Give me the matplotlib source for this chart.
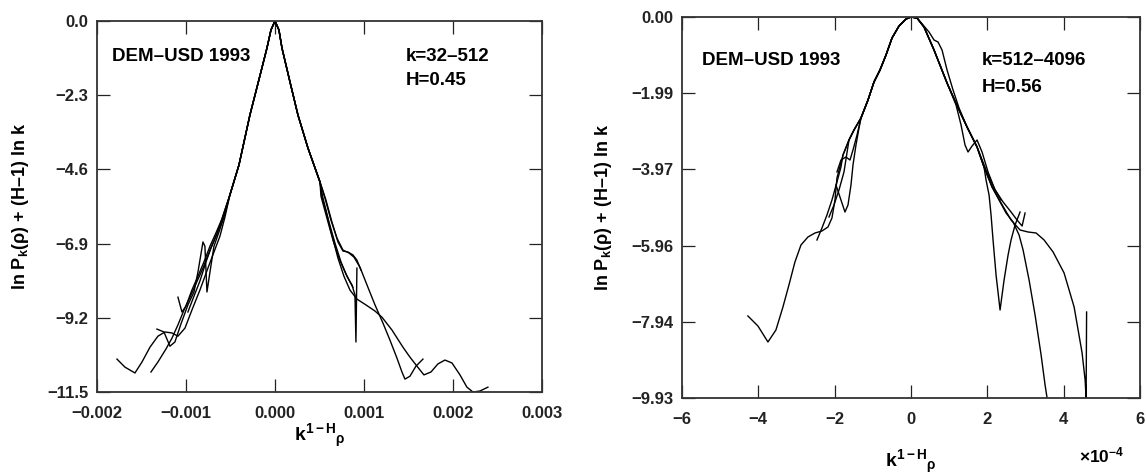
#!/usr/bin/env python

import matplotlib

matplotlib.use("Agg")
import matplotlib.pyplot as plt
from matplotlib.ticker import FixedLocator, FuncFormatter

# ---- left panel: k=32-512, H=0.45 (x in units of 1e-3) ----
left_core_x = [-0.506, -0.404, -0.281, -0.169, -0.090, -0.045, 0.0, 0.045, 0.079, 0.169, 0.258, 0.371, 0.506]
left_core_y = [-5.39, -4.46, -2.91, -1.70, -0.84, -0.28, 0.0, -0.28, -0.84, -1.89, -2.91, -3.94, -4.99]

left_tails_l = [
    ([-1.775, -1.685, -1.573, -1.494, -1.404, -1.315, -1.236, -1.157, -1.090, -1.011, -0.933, -0.843, -0.753, -0.685, -0.618, -0.562],
     [-10.48, -10.73, -10.91, -10.57, -10.11, -9.77, -9.64, -9.67, -9.77, -9.52, -8.96, -8.34, -7.66, -7.16, -6.67, -6.08]),
    ([-1.393, -1.315, -1.225, -1.157, -1.090, -1.022, -0.955, -0.888, -0.809, -0.730, -0.652, -0.584],
     [-10.88, -10.57, -10.17, -9.83, -9.42, -8.96, -8.56, -8.15, -7.66, -7.10, -6.60, -6.11]),
    ([-1.326, -1.247, -1.180, -1.124, -1.056, -0.978, -0.910, -0.865, -0.809, -0.787, -0.764, -0.730, -0.685, -0.629, -0.573],
     [-9.55, -9.64, -10.08, -9.95, -9.39, -8.80, -8.40, -7.78, -6.85, -6.98, -8.40, -7.78, -6.98, -6.54, -6.08]),
    ([-1.090, -1.045, -1.000, -0.933, -0.865, -0.798, -0.730, -0.663, -0.596],
     [-8.56, -9.02, -8.84, -8.34, -7.91, -7.47, -6.98, -6.57, -6.14]),
    ([-0.978, -0.910, -0.843, -0.775, -0.719, -0.652, -0.596],
     [-9.02, -8.53, -8.06, -7.47, -7.04, -6.60, -6.14]),
]
left_tails_r = [
    ([0.528, 0.584, 0.640, 0.708, 0.775, 0.843, 0.921, 1.022, 1.124, 1.202, 1.315, 1.438, 1.517, 1.596, 1.674, 1.753, 1.831, 1.910, 1.989, 2.079, 2.157, 2.225, 2.303, 2.393],
     [-5.43, -6.01, -6.63, -7.35, -7.91, -8.34, -8.62, -8.80, -8.99, -9.18, -9.58, -10.11, -10.42, -10.70, -10.97, -10.88, -10.63, -10.51, -10.60, -10.97, -11.35, -11.50, -11.47, -11.35]),
    ([0.562, 0.629, 0.697, 0.764, 0.831, 0.888, 0.955, 1.034, 1.124, 1.213, 1.292, 1.371, 1.427, 1.461, 1.517, 1.584, 1.663],
     [-5.49, -6.17, -6.73, -7.10, -7.19, -7.32, -7.63, -8.18, -8.80, -9.36, -9.89, -10.45, -10.88, -11.10, -11.01, -10.70, -10.48]),
    ([0.539, 0.607, 0.674, 0.742, 0.809, 0.865, 0.899, 0.910, 0.921],
     [-5.49, -6.23, -6.88, -7.47, -7.91, -8.18, -8.49, -9.95, -7.66]),
    ([0.573, 0.640, 0.708, 0.764, 0.820, 0.876, 0.921, 0.966],
     [-5.55, -6.23, -6.85, -7.13, -7.16, -7.25, -7.41, -7.72]),
    ([0.517, 0.584, 0.652, 0.719, 0.787, 0.843, 0.876],
     [-5.43, -6.11, -6.79, -7.35, -7.78, -8.09, -8.25]),
]
left_xticks = [-0.002, -0.001, 0.0, 0.001, 0.002, 0.003]
left_yticks = [0.0, -2.3, -4.6, -6.9, -9.2, -11.5]

# ---- right panel: k=512-4096, H=0.56 (x in units of 1e-4) ----
right_core_x = [-1.782, -1.625, -1.494, -1.311, -1.127, -0.970, -0.813, -0.655, -0.498, -0.315, -0.131, 0.0,
                0.157, 0.341, 0.603, 0.944, 1.258, 1.468, 1.730, 1.913, 2.123]
right_core_y = [-3.596, -3.205, -2.945, -2.632, -2.163, -1.694, -1.381, -0.990, -0.547, -0.235, -0.052, 0.0,
                -0.026, -0.261, -0.860, -1.720, -2.424, -2.867, -3.388, -3.909, -4.430]

right_tails_l = [
    ([-4.273, -4.010, -3.748, -3.539, -3.355, -3.198, -3.041, -2.883, -2.700, -2.516, -2.333, -2.176, -2.071, -1.992, -1.940],
     [-7.792, -8.053, -8.470, -8.157, -7.557, -6.984, -6.385, -5.942, -5.733, -5.629, -5.577, -5.473, -5.238, -4.769, -4.196]),
    ([-2.149, -2.018, -1.887, -1.756],
     [-5.212, -4.899, -4.508, -4.039]),
    ([-1.966, -1.835, -1.730, -1.651, -1.573, -1.520, -1.442, -1.363],
     [-4.378, -4.769, -5.082, -4.899, -4.378, -3.857, -3.336, -2.893]),
    ([-1.940, -1.835, -1.704, -1.599, -1.520, -1.415],
     [-4.039, -3.727, -3.648, -3.727, -3.466, -3.075]),
    ([-2.464, -2.333, -2.202, -2.071, -1.940, -1.835],
     [-5.811, -5.499, -5.160, -4.769, -4.300, -3.909]),
]
right_tails_r = [
    ([2.359, 2.621, 2.857, 3.067, 3.277, 3.486, 3.722, 4.010, 4.273, 4.482, 4.561, 4.587, 4.600],
     [-4.847, -5.290, -5.551, -5.603, -5.629, -5.811, -6.124, -6.671, -7.557, -8.756, -9.460, -9.930, -7.688]),
    ([1.966, 2.045, 2.097, 2.149, 2.228, 2.333, 2.438, 2.543, 2.621, 2.726, 2.857],
     [-4.248, -4.639, -5.160, -5.811, -6.724, -7.636, -6.854, -6.202, -5.811, -5.420, -5.082]),
    ([2.307, 2.490, 2.674, 2.831, 2.936, 3.093, 3.250, 3.408, 3.512, 3.565],
     [-4.769, -5.108, -5.342, -5.681, -6.072, -6.854, -7.766, -8.808, -9.590, -9.930]),
    ([1.180, 1.311, 1.415, 1.494, 1.599, 1.730, 1.861, 2.018, 2.202, 2.412, 2.621, 2.778, 2.910, 2.988],
     [-2.293, -2.815, -3.336, -3.518, -3.362, -3.205, -3.518, -4.039, -4.508, -4.821, -5.082, -5.290, -5.447, -5.108]),
    ([0.315, 0.472, 0.603, 0.708, 0.813, 0.944, 1.101, 1.258, 1.468, 1.730, 1.966, 2.176, 2.359],
     [-0.208, -0.391, -0.599, -0.652, -0.860, -1.381, -1.902, -2.371, -2.867, -3.388, -3.987, -4.456, -4.769]),
]
right_xticks = [-6, -4, -2, 0, 2, 4, 6]
right_yticks = [0.0, -1.986, -3.972, -5.958, -7.944, -9.93]


def join(tail_l, tail_r, core_x, core_y):
    (lx, ly), (rx, ry) = tail_l, tail_r
    mid = [(x, y) for x, y in zip(core_x, core_y) if lx[-1] < x < rx[0]]
    xs = lx + [p[0] for p in mid] + rx
    ys = ly + [p[1] for p in mid] + ry
    return xs, ys


def style_axes(ax):
    ax.tick_params(axis="both", direction="in", length=9.5, width=0.9,
                   top=True, right=True, labelsize=12, colors="#222222")
    ax.tick_params(axis="x", pad=10)
    ax.tick_params(axis="y", pad=6)
    for s in ax.spines.values():
        s.set_linewidth(1.3)
        s.set_color("#333333")


def main():
    plt.rcParams.update({
        "font.family": ["Liberation Sans", "DejaVu Sans"],
        "font.weight": "bold",
        "mathtext.fontset": "custom",
        "mathtext.rm": "Liberation Sans:bold",
        "mathtext.bf": "Liberation Sans:bold",
        "mathtext.it": "Liberation Sans:bold",
        "mathtext.sf": "Liberation Sans",
    })

    fig = plt.figure(figsize=(11.46, 4.74), dpi=100)
    ax1 = fig.add_axes([0.0846, 0.1730, 0.3883, 0.7827])
    ax2 = fig.add_axes([0.5951, 0.1603, 0.3997, 0.8038])

    # left panel
    for tl, tr in zip(left_tails_l, left_tails_r):
        xs, ys = join(tl, tr, left_core_x, left_core_y)
        ax1.plot([x * 1e-3 for x in xs], ys, color="black", lw=1.0)
    ax1.set_xlim(-0.002, 0.003)
    ax1.set_ylim(-11.5, 0.0)
    ax1.xaxis.set_major_locator(FixedLocator(left_xticks))
    ax1.yaxis.set_major_locator(FixedLocator(left_yticks))
    ax1.xaxis.set_major_formatter(FuncFormatter(lambda v, p: f"{v:.3f}".replace("-", "\u2212")))
    ax1.yaxis.set_major_formatter(FuncFormatter(lambda v, p: f"{v:.1f}".replace("-", "\u2212")))
    style_axes(ax1)
    ax1.text(0.034, 0.905, "DEM\u2013USD 1993", transform=ax1.transAxes,
             fontsize=13.5, fontweight="bold", va="center", ha="left")
    ax1.text(0.695, 0.905, "k=32\u2013512", transform=ax1.transAxes,
             fontsize=13.5, fontweight="bold", va="center", ha="left")
    ax1.text(0.695, 0.84, "H=0.45", transform=ax1.transAxes,
             fontsize=13.5, fontweight="bold", va="center", ha="left")

    # right panel
    for tl, tr in zip(right_tails_l, right_tails_r):
        xs, ys = join(tl, tr, right_core_x, right_core_y)
        ax2.plot([x * 1e-4 for x in xs], ys, color="black", lw=1.0)
    ax2.set_xlim(-6e-4, 6e-4)
    ax2.set_ylim(-9.93, 0.0)
    ax2.xaxis.set_major_locator(FixedLocator([t * 1e-4 for t in right_xticks]))
    ax2.yaxis.set_major_locator(FixedLocator(right_yticks))
    ax2.xaxis.set_major_formatter(FuncFormatter(lambda v, p: f"{round(v * 1e4):d}".replace("-", "\u2212")))
    ax2.yaxis.set_major_formatter(FuncFormatter(lambda v, p: f"{v:.2f}".replace("-", "\u2212")))
    style_axes(ax2)
    ax2.text(0.044, 0.885, "DEM\u2013USD 1993", transform=ax2.transAxes,
             fontsize=13.5, fontweight="bold", va="center", ha="left")
    ax2.text(0.655, 0.885, "k=512\u20134096", transform=ax2.transAxes,
             fontsize=13.5, fontweight="bold", va="center", ha="left")
    ax2.text(0.655, 0.815, "H=0.56", transform=ax2.transAxes,
             fontsize=13.5, fontweight="bold", va="center", ha="left")

    ylab = "ln P$_{\\mathbf{k}}$(\u03c1) + (H\u20131) ln k"
    xlab = r"$\mathbf{k}^{\mathbf{1-H}}{}_{\rho}$"
    fig.text(21 / 1146, 1 - 206 / 474, ylab, rotation=90, ha="center", va="center",
             fontsize=13, fontweight="bold")
    fig.text(604 / 1146, 1 - 207 / 474, ylab, rotation=90, ha="center", va="center",
             fontsize=13, fontweight="bold")
    fig.text(320 / 1146, 1 - 436 / 474, xlab, ha="center", va="center", fontsize=14)
    fig.text(911 / 1146, 1 - 462 / 474, xlab, ha="center", va="center", fontsize=14)
    fig.text(1102 / 1146, 1 - 455 / 474, r"$\times\mathbf{10^{-4}}$", ha="center", va="center",
             fontsize=12.5)

    fig.savefig("out.png", dpi=100)


if __name__ == "__main__":
    main()
